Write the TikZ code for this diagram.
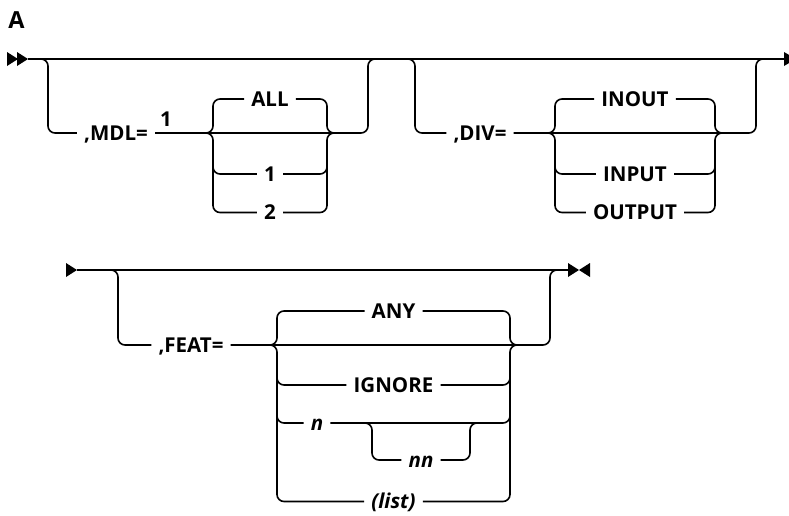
\documentclass[tikz,border=0pt]{standalone}
\usepackage{fontspec}
\newfontfamily\lblfam{Open Sans}
\begin{document}
\begin{tikzpicture}[x=1pt,y=-1pt,
  rr/.style={line width=1.6pt, rounded corners=7pt},
  lbl/.style={font={\lblfam\bfseries\fontsize{20.5}{23}\selectfont}, inner xsep=7pt, inner ysep=0pt, text height=14.6pt, text depth=0pt},
  ilbl/.style={lbl, font={\lblfam\bfseries\itshape\fontsize{20.5}{23}\selectfont}},
  tipfill/.style={fill=black}]
\useasboundingbox (0,0) rectangle (789,515);
\clip (0,0) rectangle (789,515);

\node[font={\lblfam\bfseries\fontsize{23.5}{27}\selectfont}, inner sep=0pt] (A) at (16.5,20) {A};

% ---------- row 1 ----------
\coordinate (s1) at (28,59);
\coordinate (e1) at (785,59);
\draw[rr] (s1) -- (e1);
\fill[tipfill] (7,52) -- (18,59) -- (7,66) -- cycle;
\fill[tipfill] (17,52) -- (28,59) -- (17,66) -- cycle;
\fill[tipfill] (784,52) -- (796,59) -- (784,66) -- cycle;

% MDL segment
\node[lbl] (mdl) at (116,133) {,MDL=};
\node[lbl] (fn) at (166,119) {1};
\node[lbl] (all) at (270,99) {ALL};
\node[lbl] (m1) at (270,174) {1};
\node[lbl] (m2) at (270,212.5) {2};
\coordinate (mj) at (380,59);
\draw[rr] (36,59) -- (48,59) -- (48,133) -- (mdl.west);
\draw[rr] (mdl.east) -- (368,133) -- (368,59) -- (mj);
\draw[rr] (205,133) -- (213,133) -- (213,99) -- (all.west);
\draw[rr] (all.east) -- (327,99) -- (327,133) -- (335,133);
\draw[rr] (205,133) -- (213,133) -- (213,212.5) -- (m2.west);
\draw[rr] (m2.east) -- (327,212.5) -- (327,133) -- (335,133);
\draw[rr] (213,160) -- (213,174) -- (m1.west);
\draw[rr] (m1.east) -- (327,174) -- (327,160);

% DIV segment
\node[lbl] (div) at (480,133) {,DIV=};
\node[lbl] (inout) at (635,99) {INOUT};
\node[lbl] (input) at (635,174) {INPUT};
\node[lbl] (output) at (635,212.5) {OUTPUT};
\coordinate (dj) at (768,59);
\draw[rr] (403,59) -- (415,59) -- (415,133) -- (div.west);
\draw[rr] (div.east) -- (756,133) -- (756,59) -- (dj);
\draw[rr] (547,133) -- (555,133) -- (555,99) -- (inout.west);
\draw[rr] (inout.east) -- (715,99) -- (715,133) -- (723,133);
\draw[rr] (547,133) -- (555,133) -- (555,212.5) -- (output.west);
\draw[rr] (output.east) -- (715,212.5) -- (715,133) -- (723,133);
\draw[rr] (555,160) -- (555,174) -- (input.west);
\draw[rr] (input.east) -- (715,174) -- (715,160);

% ---------- row 2 ----------
\coordinate (s2) at (77,270);
\coordinate (e2) at (568,270);
\draw[rr] (s2) -- (e2);
\fill[tipfill] (66,263) -- (77,270) -- (66,277) -- cycle;
\fill[tipfill] (568,263) -- (579,270) -- (568,277) -- cycle;
\fill[tipfill] (590,263) -- (579,270) -- (590,277) -- cycle;

\node[lbl] (feat) at (191,345) {,FEAT=};
\node[lbl] (any) at (393.5,311) {ANY};
\node[lbl] (ign) at (393.5,385) {IGNORE};
\node[ilbl] (n) at (317,423) {n};
\node[ilbl] (nn) at (421,460) {nn};
\node[ilbl] (list) at (393.5,501.5) {(list)};
\coordinate (fj) at (562,270);
\draw[rr] (106,270) -- (118,270) -- (118,345) -- (feat.west);
\draw[rr] (feat.east) -- (550,345) -- (550,270) -- (fj);
\draw[rr] (269,345) -- (277,345) -- (277,311) -- (any.west);
\draw[rr] (any.east) -- (510,311) -- (510,345) -- (518,345);
\draw[rr] (269,345) -- (277,345) -- (277,501.5) -- (list.west);
\draw[rr] (list.east) -- (510,501.5) -- (510,345) -- (518,345);
\draw[rr] (277,370) -- (277,385) -- (ign.west);
\draw[rr] (ign.east) -- (510,385) -- (510,370);
\draw[rr] (277,410) -- (277,423) -- (n.west);
\draw[rr] (n.east) -- (510,423) -- (510,410);
\draw[rr] (364,423) -- (372,423) -- (372,460) -- (nn.west);
\draw[rr] (nn.east) -- (470,460) -- (470,423) -- (478,423);
\end{tikzpicture}
\end{document}
